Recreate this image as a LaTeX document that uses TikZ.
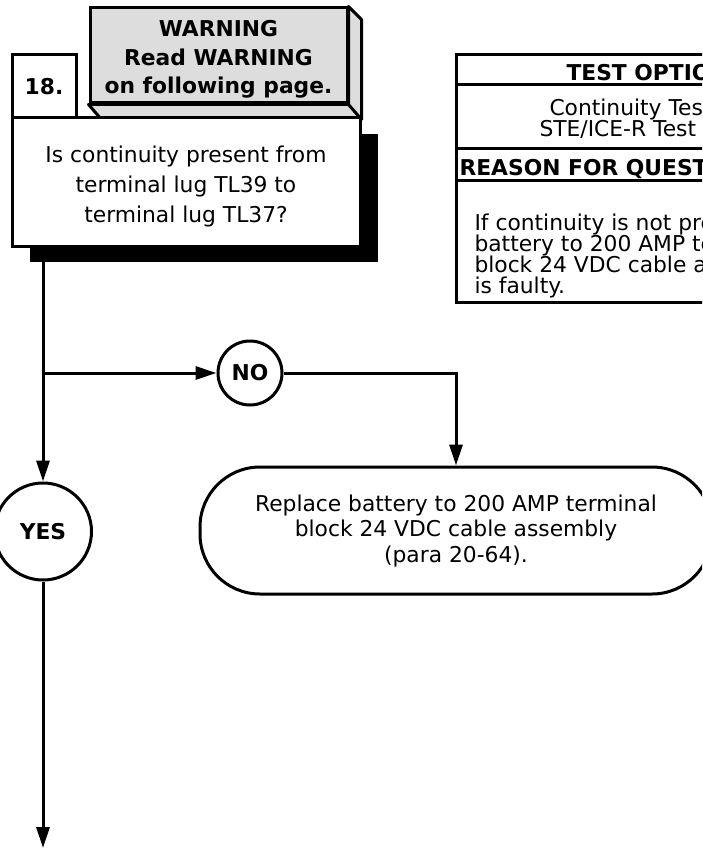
\documentclass[tikz,border=0pt]{standalone}
\usepackage{fontspec}
\setmainfont{DejaVu Sans}
\usetikzlibrary{arrows.meta,shadows}
\definecolor{warngray}{RGB}{221,221,221}
\setlength\lineskiplimit{-10pt}

\begin{document}
\begin{tikzpicture}[x=1pt,y=-1pt,line width=3pt,>={Triangle[length=21pt,width=13pt]},
font=\fontsize{21.8}{22}\selectfont,
box/.style={draw,fill=white,inner sep=0pt,align=center},
answer/.style={draw,circle,fill=white,inner sep=0pt,font=\fontsize{21.8}{22}\selectfont\bfseries},
lab/.style={inner sep=0pt,anchor=base west}]
\useasboundingbox (0,0) rectangle (702,848);
\clip (0,0) rectangle (702,848);
\node[box,minimum width=64pt,minimum height=63pt,font=\fontsize{21.8}{22}\selectfont\bfseries] (step) at (44,86.5) {18.};
\node[box,fill=warngray,minimum width=257pt,minimum height=95pt,font=\fontsize{21.8}{28.5}\selectfont\bfseries] (warn) at (218.5,55.5) {\rule{0pt}{24pt}WARNING\\Read WARNING\\on following page.};
\filldraw[fill=warngray,line join=round] (warn.north east) -- ([shift={(13,13)}]warn.north east) -- ([shift={(13,15)}]warn.south east) -- ([shift={(13,15)}]warn.south west) -- (warn.south west) -- (warn.south east) -- cycle;
\draw (warn.south east) -- ([shift={(13,15)}]warn.south east);
\node[box,minimum width=348pt,minimum height=128pt,font=\fontsize{21.8}{30}\selectfont,
  drop shadow={shadow xshift=18pt,shadow yshift=-16pt,fill=black,opacity=1}] (question) at (186,182) {\rule{0pt}{26pt}Is continuity present from\hspace{6pt}\\terminal lug TL39 to\hspace{6pt}\\terminal lug TL37?\hspace{6pt}};
\draw (456,55) rectangle (780,302);
\draw (456,85) -- (780,85) (456,148) -- (780,148) (456,180) -- (780,180);
\node[lab,font=\fontsize{21.8}{22}\selectfont\bfseries] (optitle) at (565,81) {TEST OPTIONS};
\node[lab] (optone) at (548,116) {Continuity Test};
\node[lab] (opttwo) at (538,136) {STE/ICE-R Test};
\node[lab,font=\fontsize{21.8}{22}\selectfont\bfseries] (reason) at (458,175) {REASON FOR QUESTION};
\node[lab,anchor=north west,align=left,font=\fontsize{21.8}{21}\selectfont] (why) at (473,212) {If continuity is not present,\\battery to 200 AMP terminal\\block 24 VDC cable assembly\\is faulty.};
\node[answer,minimum size=64pt] (no) at (250,373) {NO};
\node[answer,minimum size=97pt] (yes) at (43,531.5) {YES};
\node[box,rounded corners=60pt,minimum width=512pt,minimum height=127pt,font=\fontsize{21.8}{25.5}\selectfont] (fix) at (456,530.5) {Replace battery to 200 AMP terminal\\block 24 VDC cable assembly\\(para 20-64).};
\coordinate (split) at (yes |- no);
\coordinate (next) at (43,848);
\draw[->] (question.south -| yes) -- (yes.north);
\draw[->] (split) -- (no.west);
\draw[->] (no.east) -| (fix.north);
\draw[->] (yes.south) -- (next);
\end{tikzpicture}
\end{document}
